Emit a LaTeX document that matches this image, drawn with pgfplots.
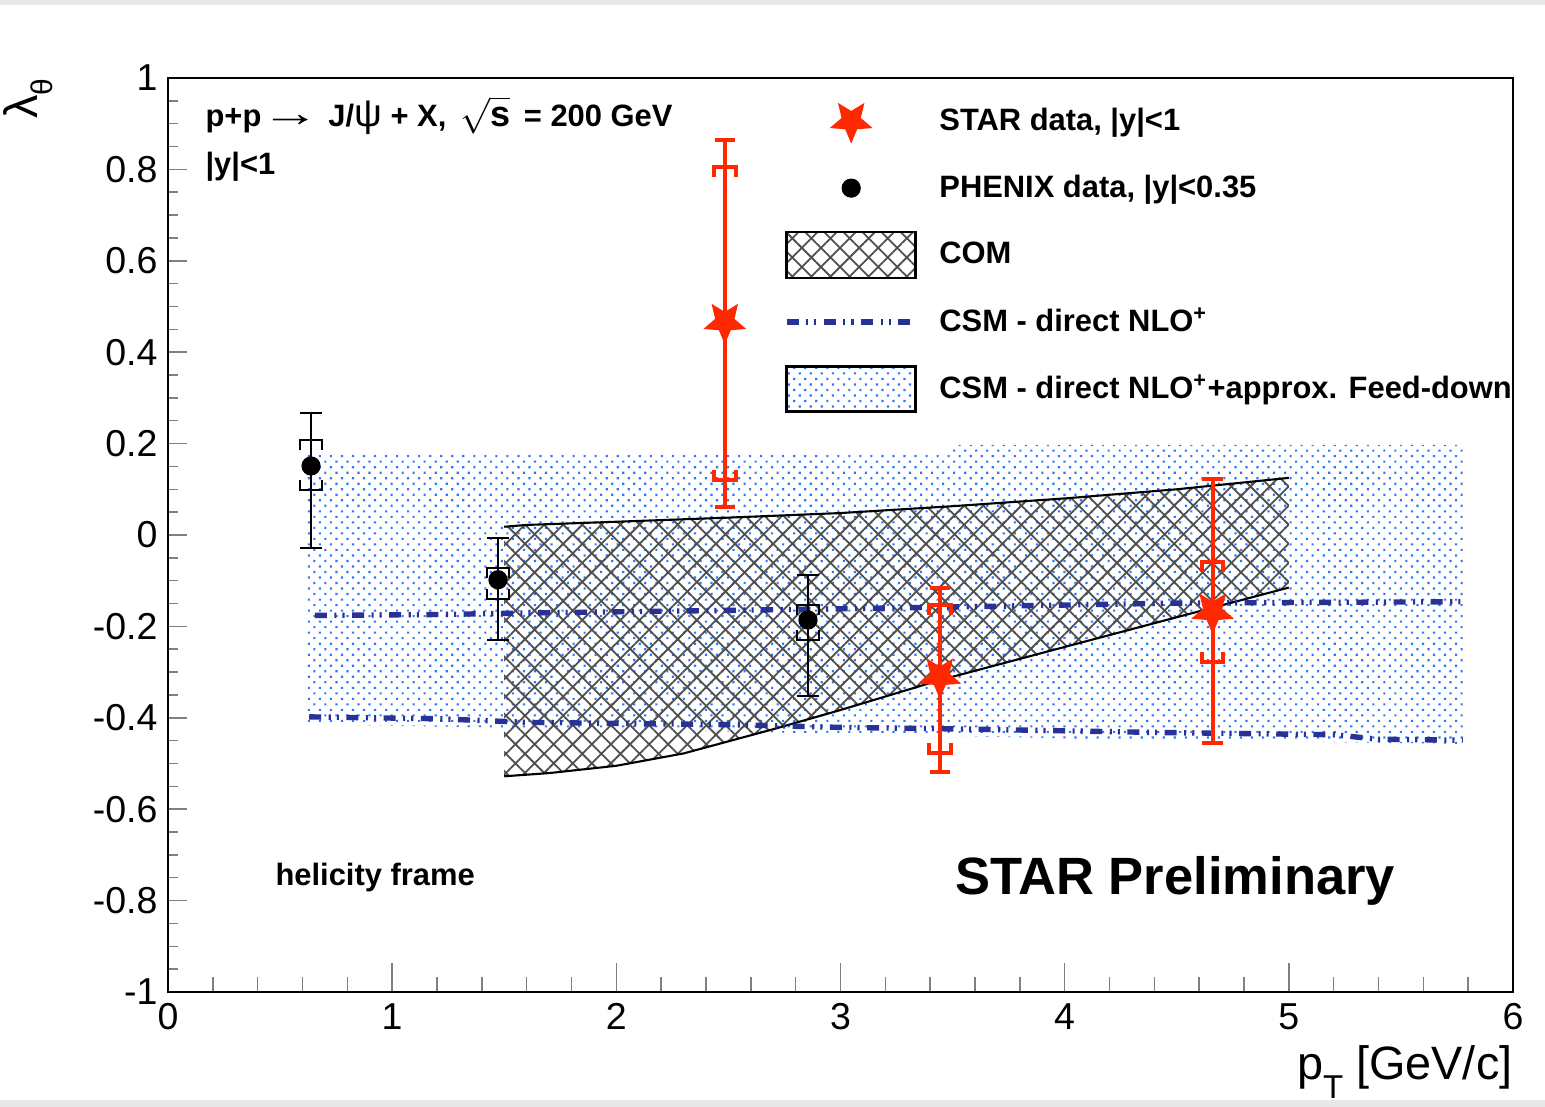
\documentclass[border=0pt]{standalone}
\usepackage{pgfplots}
\pgfplotsset{compat=1.18}
\usepackage{fontspec}
\setmainfont{Liberation Sans}
\usetikzlibrary{patterns.meta}

\definecolor{starred}{RGB}{255,40,0}
\definecolor{csmblue}{RGB}{40,50,150}
\definecolor{dotblue}{RGB}{40,120,250}
\definecolor{hatchgray}{RGB}{80,80,80}

\tikzset{csmline/.style={color=csmblue, line width=1.8pt,
  dash pattern=on 4pt off 2.5pt on 0.7pt off 2pt on 0.7pt off 2.5pt}}

\pgfdeclareplotmark{fstar}{%
  \pgfpathmoveto{\pgfpointpolar{270}{\pgfplotmarksize}}%
  \pgfpathlineto{\pgfpointpolar{306}{0.45*\pgfplotmarksize}}%
  \pgfpathlineto{\pgfpointpolar{342}{\pgfplotmarksize}}%
  \pgfpathlineto{\pgfpointpolar{18}{0.45*\pgfplotmarksize}}%
  \pgfpathlineto{\pgfpointpolar{54}{\pgfplotmarksize}}%
  \pgfpathlineto{\pgfpointpolar{90}{0.45*\pgfplotmarksize}}%
  \pgfpathlineto{\pgfpointpolar{126}{\pgfplotmarksize}}%
  \pgfpathlineto{\pgfpointpolar{162}{0.45*\pgfplotmarksize}}%
  \pgfpathlineto{\pgfpointpolar{198}{\pgfplotmarksize}}%
  \pgfpathlineto{\pgfpointpolar{234}{0.45*\pgfplotmarksize}}%
  \pgfpathclose
  \pgfusepathqfill
}
\pgfdeclareplotmark{sysup}{%
  \pgfpathmoveto{\pgfpoint{-\pgfplotmarksize}{-0.9*\pgfplotmarksize}}%
  \pgfpathlineto{\pgfpoint{-\pgfplotmarksize}{0pt}}%
  \pgfpathlineto{\pgfpoint{\pgfplotmarksize}{0pt}}%
  \pgfpathlineto{\pgfpoint{\pgfplotmarksize}{-0.9*\pgfplotmarksize}}%
  \pgfusepathqstroke
}
\pgfdeclareplotmark{sysdn}{%
  \pgfpathmoveto{\pgfpoint{-\pgfplotmarksize}{0.9*\pgfplotmarksize}}%
  \pgfpathlineto{\pgfpoint{-\pgfplotmarksize}{0pt}}%
  \pgfpathlineto{\pgfpoint{\pgfplotmarksize}{0pt}}%
  \pgfpathlineto{\pgfpoint{\pgfplotmarksize}{0.9*\pgfplotmarksize}}%
  \pgfusepathqstroke
}

\begin{document}
\begin{tikzpicture}
\fill[white] (-56pt,-38.33pt) rectangle (459pt,330.67pt);
\fill[black!9] (-56pt,329pt) rectangle (459pt,330.67pt);
\fill[black!9] (-56pt,-38.33pt) rectangle (459pt,-36pt);
\begin{axis}[
  at={(0pt,0pt)}, anchor=south west,
  width=448.33pt, height=304.67pt, scale only axis,
  xmin=0, xmax=6, ymin=-1, ymax=1,
  axis line style={line width=0.8pt},
  xtick={0,1,2,3,4,5,6}, xticklabels={0,1,2,3,4,5,6},
  ytick={-1,-0.8,-0.6,-0.4,-0.2,0,0.2,0.4,0.6,0.8,1},
  yticklabels={-1,-0.8,-0.6,-0.4,-0.2,0,0.2,0.4,0.6,0.8,1},
  minor x tick num=4, minor y tick num=3,
  tick align=inside, xtick pos=bottom, ytick pos=left,
  xtick style={line width=0.5pt, /pgfplots/major tick length=9.7pt, /pgfplots/minor tick length=5pt},
  ytick style={line width=0.5pt, /pgfplots/major tick length=6.3pt, /pgfplots/minor tick length=3.3pt},
  tick label style={font=\fontsize{12.5}{12.5}\selectfont},
  xticklabel style={inner sep=0pt, yshift=-3.7pt},
  yticklabel style={inner sep=0pt, xshift=-3.3pt},
  legend style={at={(axis cs:2.748,0.979)}, anchor=north west, draw=none, fill=none,
    inner sep=0pt, outer sep=0pt, row sep=0pt, column sep=7pt,
    font=\bfseries\fontsize{10.3}{10.3}\selectfont, nodes={inner sep=0pt}},
  legend cell align=left,
]
% CSM direct NLO + feed-down band (dotted)
\addplot[forget plot, draw=none, pattern={Dots[angle=45,distance=2.6pt,radius=0.5pt]}, pattern color=dotblue]
  coordinates {(0.624,0.182) (3.50,0.182) (3.50,0.197) (5.776,0.197)
               (5.776,-0.457) (5.0,-0.452) (4.0,-0.445) (3.0,-0.435) (2.0,-0.425) (0.624,-0.415)} -- cycle;
% COM band (hatched)
\addplot[forget plot, draw=none, pattern={Hatch[angle=45,distance=4.5pt,line width=0.6pt]}, pattern color=hatchgray]
  coordinates {(1.5,0.018) (1.6,0.022) (2.0,0.029) (2.5,0.038) (3.0,0.048) (3.5,0.063) (4.0,0.080) (4.5,0.100) (5.0,0.125)
               (5.0,-0.115) (4.5,-0.180) (4.0,-0.245) (3.44,-0.318) (3.0,-0.383) (2.7,-0.425) (2.3,-0.478) (2.0,-0.505) (1.7,-0.521) (1.5,-0.528)} -- cycle;
\addplot[forget plot, black, line width=0.7pt, mark=none]
  coordinates {(1.5,0.018) (1.6,0.022) (2.0,0.029) (2.5,0.038) (3.0,0.048) (3.5,0.063) (4.0,0.080) (4.5,0.100) (5.0,0.125)};
\addplot[forget plot, black, line width=0.7pt, mark=none]
  coordinates {(1.5,-0.528) (1.7,-0.521) (2.0,-0.505) (2.3,-0.478) (2.7,-0.425) (3.0,-0.383) (3.44,-0.318) (4.0,-0.245) (4.5,-0.180) (5.0,-0.115)};
% CSM direct NLO lines
\addplot[forget plot, csmline, mark=none]
  coordinates {(0.655,-0.176) (1.2,-0.174) (1.7,-0.170) (2.5,-0.165) (3.2,-0.160) (3.8,-0.155) (4.5,-0.149) (5.776,-0.146)};
\addplot[forget plot, csmline, mark=none]
  coordinates {(0.63,-0.398) (1.2,-0.402) (1.6,-0.410) (2.5,-0.415) (3.0,-0.421) (3.6,-0.425) (4.4,-0.432) (5.2,-0.437) (5.4,-0.447) (5.776,-0.449)};
% PHENIX
\addplot[forget plot, only marks, mark=sysup, mark size=3.6pt, black, mark options={line width=0.6pt}]
  coordinates {(0.638,0.208) (1.472,-0.072) (2.855,-0.153)};
\addplot[forget plot, only marks, mark=sysdn, mark size=3.6pt, black, mark options={line width=0.6pt}]
  coordinates {(0.638,0.098) (1.472,-0.140) (2.855,-0.230)};
\addplot[forget plot, only marks, mark=*, mark size=3pt, black,
  error bars/.cd, y dir=both, y explicit,
  error bar style={line width=0.6pt, black},
  error mark options={rotate=90, black, line width=0.6pt, mark size=3.7pt}]
  table[x=x, y=y, y error plus=ep, y error minus=em]{
  x y ep em
  0.638 0.151 0.116 0.179
  1.472 -0.098 0.091 0.132
  2.855 -0.186 0.098 0.166
};
% STAR
\addplot[forget plot, only marks, mark=sysup, mark size=3.6pt, starred, mark options={line width=1.3pt}]
  coordinates {(2.484,0.805) (3.443,-0.153) (4.660,-0.059)};
\addplot[forget plot, only marks, mark=sysdn, mark size=3.6pt, starred, mark options={line width=1.3pt}]
  coordinates {(2.484,0.120) (3.443,-0.477) (4.660,-0.278)};
\addplot[forget plot, only marks, mark=fstar, mark size=7.5pt, starred,
  error bars/.cd, y dir=both, y explicit,
  error bar style={line width=1.3pt, starred},
  error mark options={rotate=90, starred, line width=1.3pt, mark size=3.4pt}]
  table[x=x, y=y, y error plus=ep, y error minus=em]{
  x y ep em
  2.484 0.466 0.398 0.405
  3.443 -0.310 0.194 0.209
  4.660 -0.168 0.291 0.287
};
% legend
\addlegendimage{legend image code/.code={
  \path[draw=none,fill=none] (0pt,-11.17pt) rectangle (43pt,11.17pt);
  \draw[starred, only marks, mark=fstar, mark size=7.5pt] plot coordinates {(21.5pt,0pt)};}}
\addlegendentry{STAR data, |y|<1}
\addlegendimage{legend image code/.code={
  \path[draw=none,fill=none] (0pt,-11.17pt) rectangle (43pt,11.17pt);
  \draw[black, only marks, mark=*, mark size=3pt] plot coordinates {(21.5pt,0pt)};}}
\addlegendentry{PHENIX data, |y|<0.35}
\addlegendimage{legend image code/.code={
  \path[draw=none,fill=none] (0pt,-11.17pt) rectangle (43pt,11.17pt);
  \draw[black, line width=0.9pt, pattern={Hatch[angle=45,distance=4.5pt,line width=0.6pt]}, pattern color=hatchgray] (0pt,-7.67pt) rectangle (43pt,7.67pt);}}
\addlegendentry{COM}
\addlegendimage{legend image code/.code={
  \path[draw=none,fill=none] (0pt,-11.17pt) rectangle (43pt,11.17pt);
  \draw[csmline] (0pt,0pt) -- (43pt,0pt);}}
\addlegendentry{CSM - direct NLO\textsuperscript{+}}
\addlegendimage{legend image code/.code={
  \path[draw=none,fill=none] (0pt,-11.17pt) rectangle (43pt,11.17pt);
  \draw[black, line width=0.9pt, pattern={Dots[angle=45,distance=2.6pt,radius=0.5pt]}, pattern color=dotblue] (0pt,-7.5pt) rectangle (43pt,7.5pt);}}
\addlegendentry{CSM - direct NLO\textsuperscript{+}+approx. Feed-down}
% text
\node[anchor=base west, inner sep=0pt, font=\bfseries\fontsize{10.3}{10.3}\selectfont]
  at (axis cs:0.165,0.893) {p+p{\mdseries\fontsize{13}{13}\selectfont\scalebox{1.5}[1]{→}} J/{\mdseries\fontsize{13}{13}\selectfont ψ} + X,\, {\fontsize{12}{12}\selectfont\(\sqrt{\mbox{\bfseries s}}\)}\, = 200 GeV};
\node[anchor=base west, inner sep=0pt, font=\bfseries\fontsize{10.3}{10.3}\selectfont]
  at (axis cs:0.165,0.788) {|y|<1};
\node[anchor=base west, inner sep=0pt, font=\bfseries\fontsize{10.3}{10.3}\selectfont]
  at (axis cs:0.477,-0.766) {helicity frame};
\node[anchor=base west, inner sep=0pt, font=\bfseries\fontsize{17.5}{17.5}\selectfont]
  at (axis cs:3.51,-0.786) {STAR Preliminary};
\end{axis}
\node[anchor=base east, inner sep=0pt, font=\fontsize{15.6}{15.6}\selectfont]
  at (448.33pt,-29.3pt) {p\raisebox{-6.3pt}{\fontsize{11}{11}\selectfont T} [GeV/c]};
\node[rotate=90, anchor=north east, inner sep=0pt, font=\fontsize{15.6}{15.6}\selectfont]
  at (-55pt,304.67pt) {λ\raisebox{-5pt}{\fontsize{10}{10}\selectfont θ}};
\pgfresetboundingbox
\useasboundingbox (-56pt,-38.33pt) rectangle (459pt,330.67pt);
\end{tikzpicture}
\end{document}
